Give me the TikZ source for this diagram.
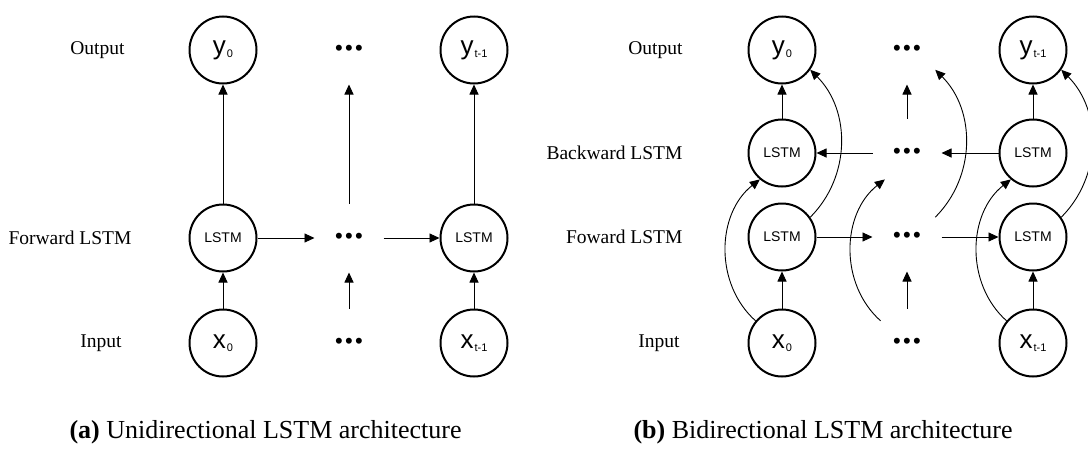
\documentclass[tikz,border=0pt]{standalone}
\usepackage{fontspec}
\setmainfont{Liberation Serif}
\setsansfont{Liberation Sans}
\usetikzlibrary{arrows.meta}

% value with a small subscript, as inside the circles
\newcommand{\vsub}[1]{{\fontsize{11}{11}\selectfont\kern1pt\raisebox{-3pt}{#1}}}
\newcommand{\vlab}[2]{{\fontsize{26}{26}\selectfont #1}\vsub{#2}}
\newcommand{\gapdots}{\textbullet\kern2.3pt\textbullet\kern2.3pt\textbullet}

\tikzset{
	neuron/.style={circle, draw, line width=2pt, minimum size=67pt, inner sep=0pt,
		font=\sffamily\fontsize{14}{14}\selectfont},
	gap/.style={circle, line width=2pt, minimum size=67pt, inner sep=0pt,
		font=\sffamily\fontsize{22}{22}\selectfont},
	rowlabel/.style={anchor=east, font=\fontsize{19.5}{20}\selectfont},
	caption/.style={anchor=base west, font=\fontsize{26}{26}\selectfont},
	link/.style={-{Triangle[length=10pt,width=9pt]}, line width=0.9pt},
}

\begin{document}
\begin{tikzpicture}[x=1pt, y=-1pt]
	\useasboundingbox (0,0) rectangle (1088,450);
	
	% Unidirectional: rows
	\node[rowlabel] (outa) at (128,50) {Output};
	\node[rowlabel] (fwla) at (135,238) {Forward LSTM};
	\node[rowlabel] (ina) at (125,343) {Input};
	
	\node[neuron] (ya0) at (223,50) {\vlab{y}{0}};
	\node[gap] (dya) at (349,50) {\gapdots};
	\node[neuron] (yat) at (474,50) {\vlab{y}{t-1}};
	
	\node[neuron] (lstma0) at (223,238) {LSTM};
	\node[gap] (dla) at (349,238) {\gapdots};
	\node[neuron] (lstmat) at (474,238) {LSTM};
	
	\node[neuron] (xa0) at (223,343) {\vlab{x}{0}};
	\node[gap] (dxa) at (349,343) {\gapdots};
	\node[neuron] (xat) at (474,343) {\vlab{x}{t-1}};
	
	% Unidirectional: links
	\draw[link] (xa0) -- (lstma0);
	\draw[link] (dxa) -- (dla);
	\draw[link] (xat) -- (lstmat);
	\draw[link] (lstma0) -- (ya0);
	\draw[link] (dla) -- (dya);
	\draw[link] (lstmat) -- (yat);
	\draw[link] (lstma0) -- (dla);
	\draw[link] (dla) -- (lstmat);
	
	% Bidirectional: rows
	\node[rowlabel] (outb) at (686,50) {Output};
	\node[rowlabel] (bwlb) at (686,153) {Backward LSTM};
	\node[rowlabel] (fwlb) at (686,237) {Foward LSTM};
	\node[rowlabel] (inb) at (683,343) {Input};
	
	\node[neuron] (yb0) at (782,50) {\vlab{y}{0}};
	\node[gap] (dyb) at (907,50) {\gapdots};
	\node[neuron] (ybt) at (1033,50) {\vlab{y}{t-1}};
	
	\node[neuron] (bwd0) at (782,153) {LSTM};
	\node[gap] (dbb) at (907,153) {\gapdots};
	\node[neuron] (bwdt) at (1033,153) {LSTM};
	
	\node[neuron] (fwd0) at (782,237) {LSTM};
	\node[gap] (dfb) at (907,237) {\gapdots};
	\node[neuron] (fwdt) at (1033,237) {LSTM};
	
	\node[neuron] (xb0) at (782,343) {\vlab{x}{0}};
	\node[gap] (dxb) at (907,343) {\gapdots};
	\node[neuron] (xbt) at (1033,343) {\vlab{x}{t-1}};
	
	% Bidirectional: straight links
	\draw[link] (xb0) -- (fwd0);
	\draw[link] (dxb) -- (dfb);
	\draw[link] (xbt) -- (fwdt);
	\draw[link] (bwd0) -- (yb0);
	\draw[link] (dbb) -- (dyb);
	\draw[link] (bwdt) -- (ybt);
	\draw[link] (fwd0) -- (dfb);
	\draw[link] (dfb) -- (fwdt);
	\draw[link] (bwdt) -- (dbb);
	\draw[link] (dbb) -- (bwd0);
	
	% Bidirectional: input to backward, forward to output
	\draw[link] (xb0.140) to[bend left=50] (bwd0.230);
	\draw[link] (dxb.140) to[bend left=50] (dbb.230);
	\draw[link] (xbt.140) to[bend left=50] (bwdt.230);
	\draw[link] (fwd0.35) to[bend right=45] (yb0.325);
	\draw[link] (dfb.35) to[bend right=45] (dyb.325);
	\draw[link] (fwdt.35) to[bend right=45] (ybt.325);
	
	% Captions
	\node[caption] (capa) at (66,438) {\textbf{(a)} Unidirectional LSTM architecture};
	\node[caption] (capb) at (630,438) {\textbf{(b)} Bidirectional LSTM architecture};
\end{tikzpicture}
\end{document}
